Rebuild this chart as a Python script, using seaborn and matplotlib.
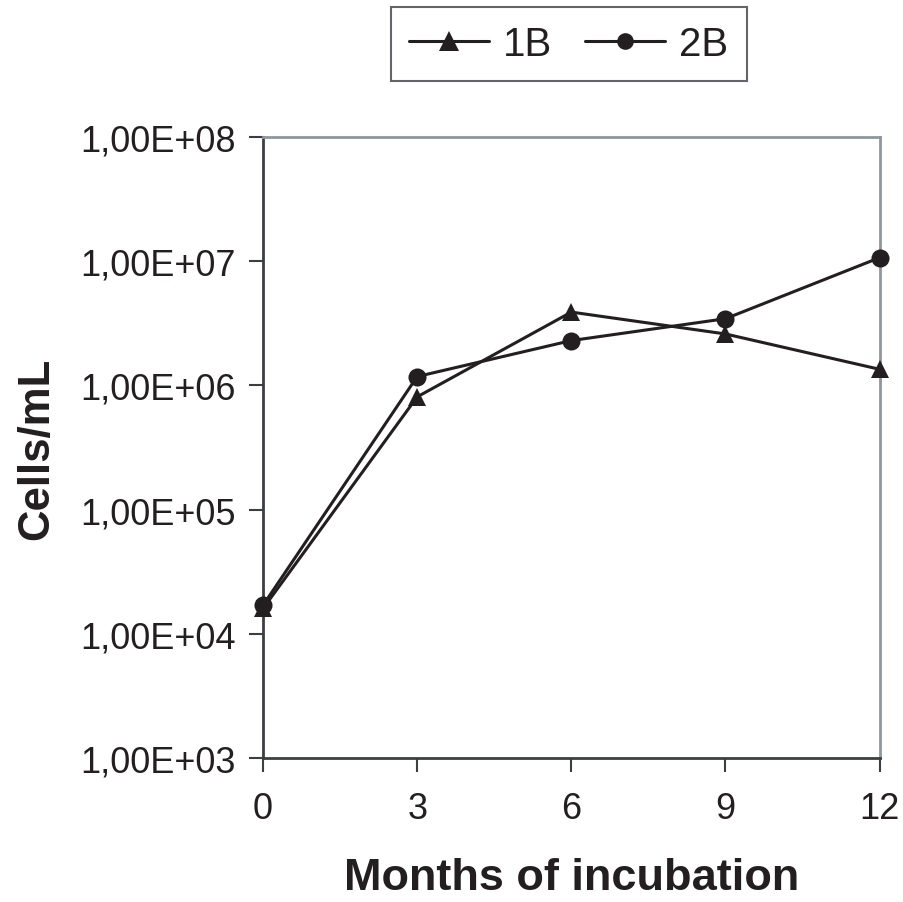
import numpy as np
import pandas as pd
import seaborn as sns
import matplotlib.pyplot as plt
from matplotlib.ticker import FuncFormatter, NullLocator, FixedLocator
from matplotlib.lines import Line2D

months = [0, 3, 6, 9, 12]
cells_1b = [1.6e4, 8.1e5, 3.9e6, 2.6e6, 1.35e6]
cells_2b = [1.7e4, 1.18e6, 2.3e6, 3.45e6, 1.07e7]
series = ['1B', '2B']
y_ticks = [1e3, 1e4, 1e5, 1e6, 1e7, 1e8]

df = pd.DataFrame({
    'month': months * 2,
    'cells': cells_1b + cells_2b,
    'sample': ['1B'] * len(months) + ['2B'] * len(months),
})

sns.set_style('ticks')
plt.rcParams['font.family'] = ['Liberation Sans', 'DejaVu Sans']

ink = '#231f20'
fig = plt.figure(figsize=(9.04, 9.03), dpi=100)
ax = fig.add_axes([0.291, 0.1595, 0.682, 0.6875])

sns.lineplot(data=df, x='month', y='cells', style='sample', markers={'1B': '^', '2B': 'o'},
             dashes=False, color=ink, linewidth=2.2, markersize=13, markeredgewidth=0,
             ax=ax, legend=False, clip_on=False, zorder=5)

ax.set_yscale('log')
ax.set_ylim(1e3, 1e8)
ax.set_xlim(0, 12)
ax.yaxis.set_major_locator(FixedLocator(y_ticks))
ax.yaxis.set_minor_locator(NullLocator())
ax.yaxis.set_major_formatter(FuncFormatter(lambda v, p: f"1,00E+{int(round(np.log10(v))):02d}"))
ax.set_xticks(months)

for side in ['left', 'bottom']:
    ax.spines[side].set_color('#3c3f42')
    ax.spines[side].set_linewidth(2)
for side in ['top', 'right']:
    ax.spines[side].set_visible(True)
    ax.spines[side].set_color('#8e979e')
    ax.spines[side].set_linewidth(2)

ax.tick_params(axis='both', which='major', direction='out', length=10, width=1.5,
               color='#3c3f42', labelsize=26, labelcolor=ink, pad=10,
               bottom=True, left=True, top=False, right=False)
ax.tick_params(axis='x', pad=14)

ax.set_xlabel('Months of incubation', fontsize=32.5, fontweight='bold', color=ink, labelpad=22)
ax.set_ylabel('Cells/mL', fontsize=31.5, fontweight='bold', color=ink, labelpad=16)

handles = [Line2D([], [], color=ink, marker='^', markersize=14, linewidth=2.2, markeredgewidth=0),
           Line2D([], [], color=ink, marker='o', markersize=12, linewidth=2.2, markeredgewidth=0)]
leg = fig.legend(handles, series, loc='upper center', bbox_to_anchor=(0.629, 0.991), ncol=2,
                 fontsize=29, frameon=True, fancybox=False, handlelength=2.0,
                 columnspacing=0.8, handletextpad=0.35, borderpad=0.45, borderaxespad=0)
leg.get_frame().set_edgecolor('#3c3f42')
leg.get_frame().set_linewidth(1.5)
for t in leg.get_texts():
    t.set_color(ink)

fig.savefig('out.png', dpi=100)
